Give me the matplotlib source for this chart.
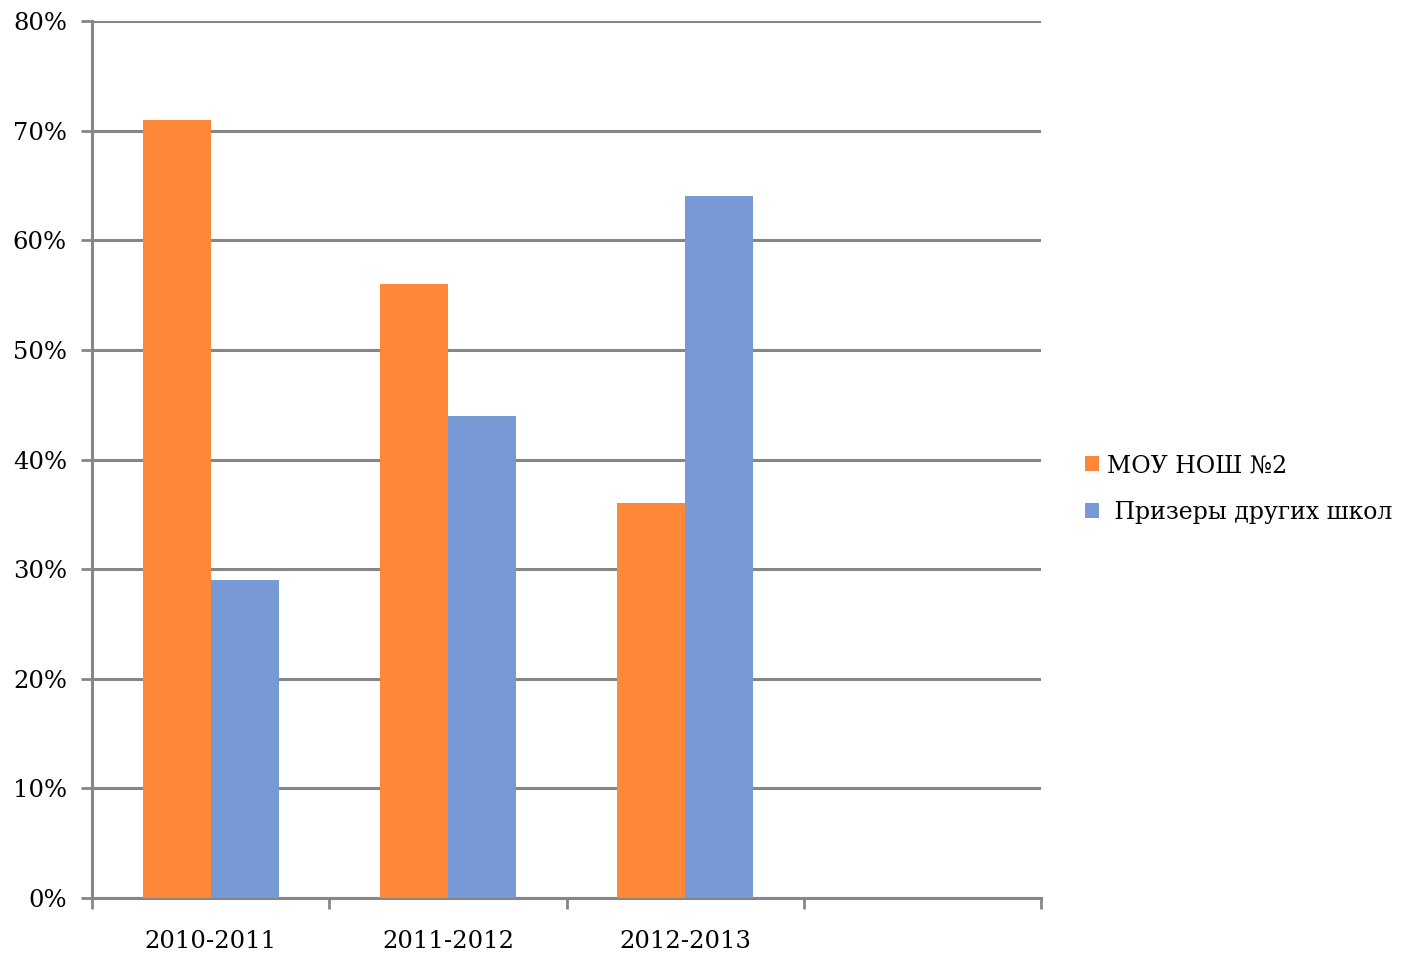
import matplotlib.pyplot as plt
import numpy as np

years = ['2010-2011', '2011-2012', '2012-2013', '']
school = [71, 56, 36, None]
others = [29, 44, 64, None]
yticks = [0, 10, 20, 30, 40, 50, 60, 70, 80]

plt.rcParams['font.family'] = ['DejaVu Serif']

fig = plt.figure(figsize=(14.06, 9.55), dpi=100)
ax = fig.add_axes([92/1406, 1-898/955, (1041-92)/1406, (898-21)/955])

x = np.arange(len(years))
w = 0.287
n = 3
ax.bar(x[:n] - w/2, school[:n], w, color='#FD8837', label='МОУ НОШ №2', zorder=3)
ax.bar(x[:n] + w/2, others[:n], w, color='#7799D5', label=' Призеры других школ', zorder=3)

ax.set_xlim(-0.5, 3.5)
ax.set_ylim(0, 80)
ax.set_yticks(yticks)
ax.set_yticklabels(['%d%%' % v for v in yticks], fontsize=17.5)
ax.yaxis.grid(True, color='#868686', linewidth=2.2, zorder=0)
ax.set_xticks(x)
ax.set_xticklabels(years, fontsize=17.5)
ax.set_xticks(np.arange(-0.5, 4, 1), minor=True)
ax.tick_params(axis='x', which='major', length=0, pad=23)
ax.tick_params(axis='x', which='minor', length=8, width=2, color='#868686')
ax.tick_params(axis='y', length=8, width=2, color='#868686', pad=10)

for s in ['top', 'right']:
    ax.spines[s].set_visible(False)
for s in ['left', 'bottom']:
    ax.spines[s].set_color('#868686')
    ax.spines[s].set_linewidth(2.2)

fig.legend(loc='center left', bbox_to_anchor=(1085/1406, 1-489/955), frameon=False,
           borderaxespad=0, borderpad=0,
           fontsize=17, handlelength=0.6, handleheight=0.6, handletextpad=0.35,
           labelspacing=1.0)

fig.savefig('out.png', dpi=100)
